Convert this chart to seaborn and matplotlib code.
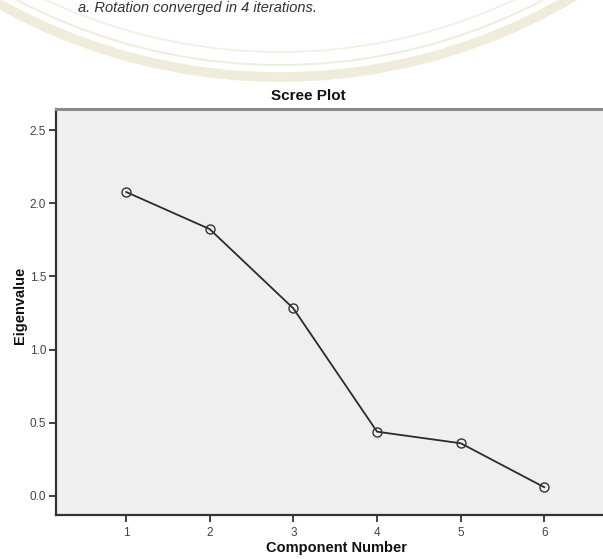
import numpy as np
import pandas as pd
import matplotlib
matplotlib.use("Agg")
import matplotlib.pyplot as plt
from matplotlib.patches import Arc
import seaborn as sns

# ---- data ----
components = [1, 2, 3, 4, 5, 6]
eigenvalues = [2.077, 1.823, 1.281, 0.439, 0.360, 0.059]
y_ticks = [0.0, 0.5, 1.0, 1.5, 2.0, 2.5]
x_ticks = [1, 2, 3, 4, 5, 6]
title = "Scree Plot"
x_label = "Component Number"
y_label = "Eigenvalue"
note = "a. Rotation converged in 4 iterations."

sns.set_style("white")
plt.rcParams['font.family'] = ['Liberation Sans', 'DejaVu Sans']

W, H = 603, 559
fig = plt.figure(figsize=(W / 100, H / 100), dpi=100)

# background layer in pixel coordinates (watermark + note)
bg = fig.add_axes([0, 0, 1, 1], zorder=0)
bg.set_xlim(0, W)
bg.set_ylim(H, 0)
bg.axis("off")
cx, cy = 280, -500
for r, lw, a in [(577, 7, 0.35), (565, 1.4, 0.35), (552, 1.2, 0.3)]:
    bg.add_patch(Arc((cx, cy), 2 * r, 2 * r, theta1=0, theta2=180,
                     color="#d8c89c", lw=lw, alpha=a))
bg.text(78, 12, note, fontsize=10.5, style="italic", color="#333333",
        ha="left", va="baseline")

# main axes
ax = fig.add_axes([56 / W, 1 - 515 / H, (W - 56) / W, (515 - 108.5) / H], zorder=1)
ax.set_facecolor("#efefef")
df = pd.DataFrame({"Component": components, "Eigenvalue": eigenvalues})
sns.lineplot(data=df, x="Component", y="Eigenvalue", ax=ax, color="#2b2b2b",
             lw=1.3, marker="o", markersize=6.5, markerfacecolor="none",
             markeredgecolor="#333333", markeredgewidth=1.0)

ax.set_xlim(0.163, 6.70)
ax.set_ylim(-0.13, 2.647)
ax.set_xticks(x_ticks)
ax.set_xticklabels([str(v) for v in x_ticks])
ax.set_yticks(y_ticks)
ax.set_yticklabels([f"{v:.1f}" for v in y_ticks])
ax.tick_params(axis="both", direction="out", length=5, width=1.3,
               color="#333333", labelsize=8.5, labelcolor="#444444", pad=2,
               bottom=True, left=True)
ax.tick_params(axis="x", pad=4)

for s in ["left", "bottom"]:
    ax.spines[s].set_color("#333333")
    ax.spines[s].set_linewidth(1.6)
ax.spines["top"].set_color("#8a8a8a")
ax.spines["top"].set_linewidth(2.2)
ax.spines["right"].set_visible(False)

ax.set_xlabel("")
ax.set_ylabel("")
fig.text(336 / W, 1 - 548 / H, x_label, fontsize=10.5, fontweight="bold",
         ha="center", va="center", color="#111111")
fig.text(20 / W, 1 - 305 / H, y_label, fontsize=10.5, fontweight="bold",
         rotation=90, ha="center", va="center", color="#111111")
fig.text(308 / W, 1 - 96 / H, title, fontsize=11, fontweight="bold",
         ha="center", va="center", color="#111111")

fig.savefig("out.png", dpi=100, facecolor="white")
